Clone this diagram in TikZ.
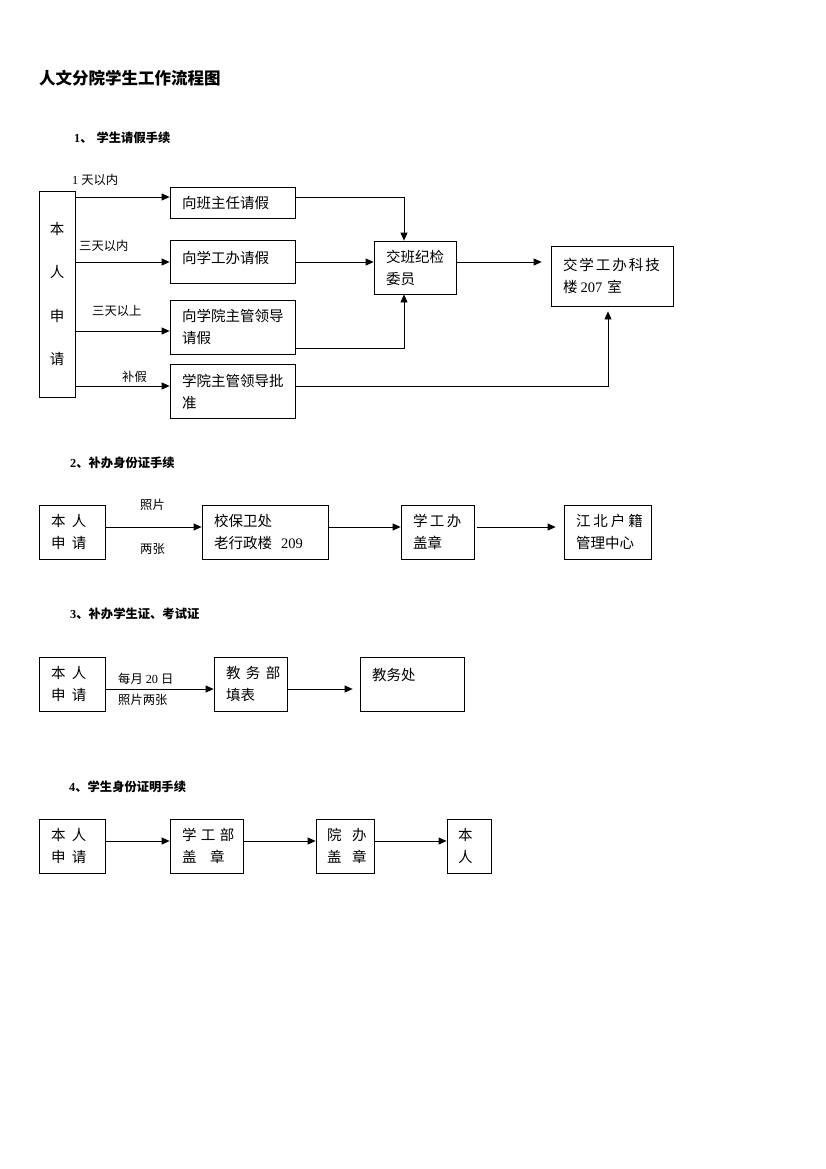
\documentclass[tikz,border=0pt]{standalone}
\usepackage{fontspec}
\setmainfont{Noto Sans CJK SC}
\newfontfamily\lat{Liberation Serif}
\usetikzlibrary{arrows.meta}
\newcommand\kk[1]{\kern#1pt\relax}
\newcommand\nm[1]{{\lat #1}}
\begin{document}
\begin{tikzpicture}[x=1pt,y=-1pt,
  box/.style={draw, line width=0.8pt, inner xsep=12pt, inner ysep=0pt, align=left,
    font=\fontsize{14.5}{22}\selectfont},
  lbl/.style={inner sep=0pt, anchor=west, font=\fontsize{12.3}{14}\selectfont},
  head/.style={inner sep=0pt, anchor=west, font=\fontsize{12.3}{14}\selectfont\bfseries},
  arr/.style={line width=0.8pt, -{Triangle[length=8pt,width=7pt]}},
  ln/.style={line width=0.8pt}]
\useasboundingbox (0,0) rectangle (826,1169);

% title
\node[inner sep=0pt, anchor=west, font=\fontsize{16.5}{18}\selectfont\bfseries] (title) at (39,78) {人文分院学生工作流程图};

% ---------- section 1 ----------
\node[head] (h1) at (74,138) {\nm{\bfseries 1}、\kk{4}学生请假手续};

\node[draw, line width=0.8pt, inner sep=0pt, minimum width=36pt, minimum height=206pt, align=center,
  font=\fontsize{14.5}{43.5}\selectfont] (ben) at (57,294) {本\\人\\申\\请};

\node[box, minimum height=31pt, text width=101pt] (a) at (232.5,202.5) {向班主任请假};
\node[box, minimum height=43pt, text width=101pt, text depth=9pt] (b) at (232.5,261.5) {向学工办请假};
\node[box, minimum height=54pt, text width=101pt] (c) at (232.5,327) {向学院主管领导\\请假};
\node[box, minimum height=54pt, text width=101pt] (d) at (232.5,391.5) {学院主管领导批\\准};
\node[box, minimum height=53pt, text width=58pt] (e) at (415,267.5) {交班纪检\\委员};
\node[box, minimum height=60pt, text width=98pt] (f) at (612,276) {交\kk{2}学\kk{2}工\kk{2}办\kk{2}科\kk{2}技\\楼\kk{3}\nm{207}\kk{5}室};

\node[lbl] (l1) at (72,180) {\nm{1}\kk{3}天以内};
\node[lbl] (l2) at (79,246) {三天以内};
\node[lbl] (l3) at (92,311) {三天以上};
\node[lbl] (l4) at (122,377) {补假};

\draw[arr] (ben.east |- 0,197) -- (a.west |- 0,197);
\draw[arr] (ben.east |- 0,262) -- (b.west |- 0,262);
\draw[arr] (ben.east |- 0,331) -- (c.west |- 0,331);
\draw[arr] (ben.east |- 0,386) -- (d.west |- 0,386);
\draw[arr] (a.east |- 0,197) -| (404,0 |- e.north);
\draw[arr] (b.east |- 0,262) -- (e.west |- 0,262);
\draw[arr] (c.east |- 0,348) -| (404,0 |- e.south);
\draw[arr, shorten >=5pt] (d.east |- 0,386) -| (608,0 |- f.south);
\draw[arr, shorten >=9pt] (e.east |- 0,262) -- (f.west |- 0,262);

% ---------- section 2 ----------
\node[head] (h2) at (70,463) {\nm{\bfseries 2}、补办身份证手续};
\node[box, minimum height=54pt, text width=42pt] (s2a) at (72,532) {本\kk{6.5}人\\申\kk{6.5}请};
\node[box, minimum height=54pt, text width=102pt] (s2b) at (265,532) {校保卫处\\老行政楼\kk{9}\nm{209}};
\node[box, minimum height=54pt, text width=49pt] (s2c) at (437.5,532) {学\kk{2.5}工\kk{2.5}办\\盖章};
\node[box, minimum height=54pt, text width=63pt] (s2d) at (607.5,532) {江\kk{3}北\kk{3}户\kk{3}籍\\管理中心};
\node[lbl] (l5) at (140,505) {照片};
\node[lbl] (l6) at (140,549) {两张};
\draw[arr] (s2a.east |- 0,527) -- (s2b.west |- 0,527);
\draw[arr] (s2b.east |- 0,527) -- (s2c.west |- 0,527);
\draw[arr, shorten <=3pt, shorten >=8pt] (s2c.east |- 0,527) -- (s2d.west |- 0,527);

% ---------- section 3 ----------
\node[head] (h3) at (70,614) {\nm{\bfseries 3}、补办学生证、考试证};
\node[box, minimum height=54pt, text width=42pt] (s3a) at (72,684) {本\kk{6.5}人\\申\kk{6.5}请};
\node[box, minimum height=54pt, text width=49pt] (s3b) at (250.5,684) {教\kk{5.5}务\kk{5.5}部\\填表};
\node[box, minimum height=54pt, text width=80pt, text depth=20pt] (s3c) at (412,684) {教务处};
\node[lbl] (l7) at (118,679) {每月\kk{3}\nm{20}\kk{3}日};
\node[lbl] (l8) at (118,700) {照片两张};
\draw[arr] (s3a.east |- 0,689) -- (s3b.west |- 0,689);
\draw[arr, shorten >=7pt] (s3b.east |- 0,689) -- (s3c.west |- 0,689);

% ---------- section 4 ----------
\node[head] (h4) at (69,787) {\nm{\bfseries 4}、学生身份证明手续};
\node[box, minimum height=54pt, text width=42pt] (s4a) at (72,846) {本\kk{6.5}人\\申\kk{6.5}请};
\node[box, minimum height=54pt, text width=49pt] (s4b) at (206.5,846) {学\kk{4.5}工\kk{4.5}部\\盖\kk{13.5}章};
\node[box, minimum height=54pt, text width=34pt, inner xsep=11pt, text width=36pt] (s4c) at (345,846) {院\kk{10.5}办\\盖\kk{10.5}章};
\node[box, minimum height=54pt, inner xsep=11pt, text width=22pt] (s4d) at (469,846) {本\\人};
\draw[arr] (s4a.east |- 0,841) -- (s4b.west |- 0,841);
\draw[arr] (s4b.east |- 0,841) -- (s4c.west |- 0,841);
\draw[arr] (s4c.east |- 0,841) -- (s4d.west |- 0,841);
\end{tikzpicture}
\end{document}
